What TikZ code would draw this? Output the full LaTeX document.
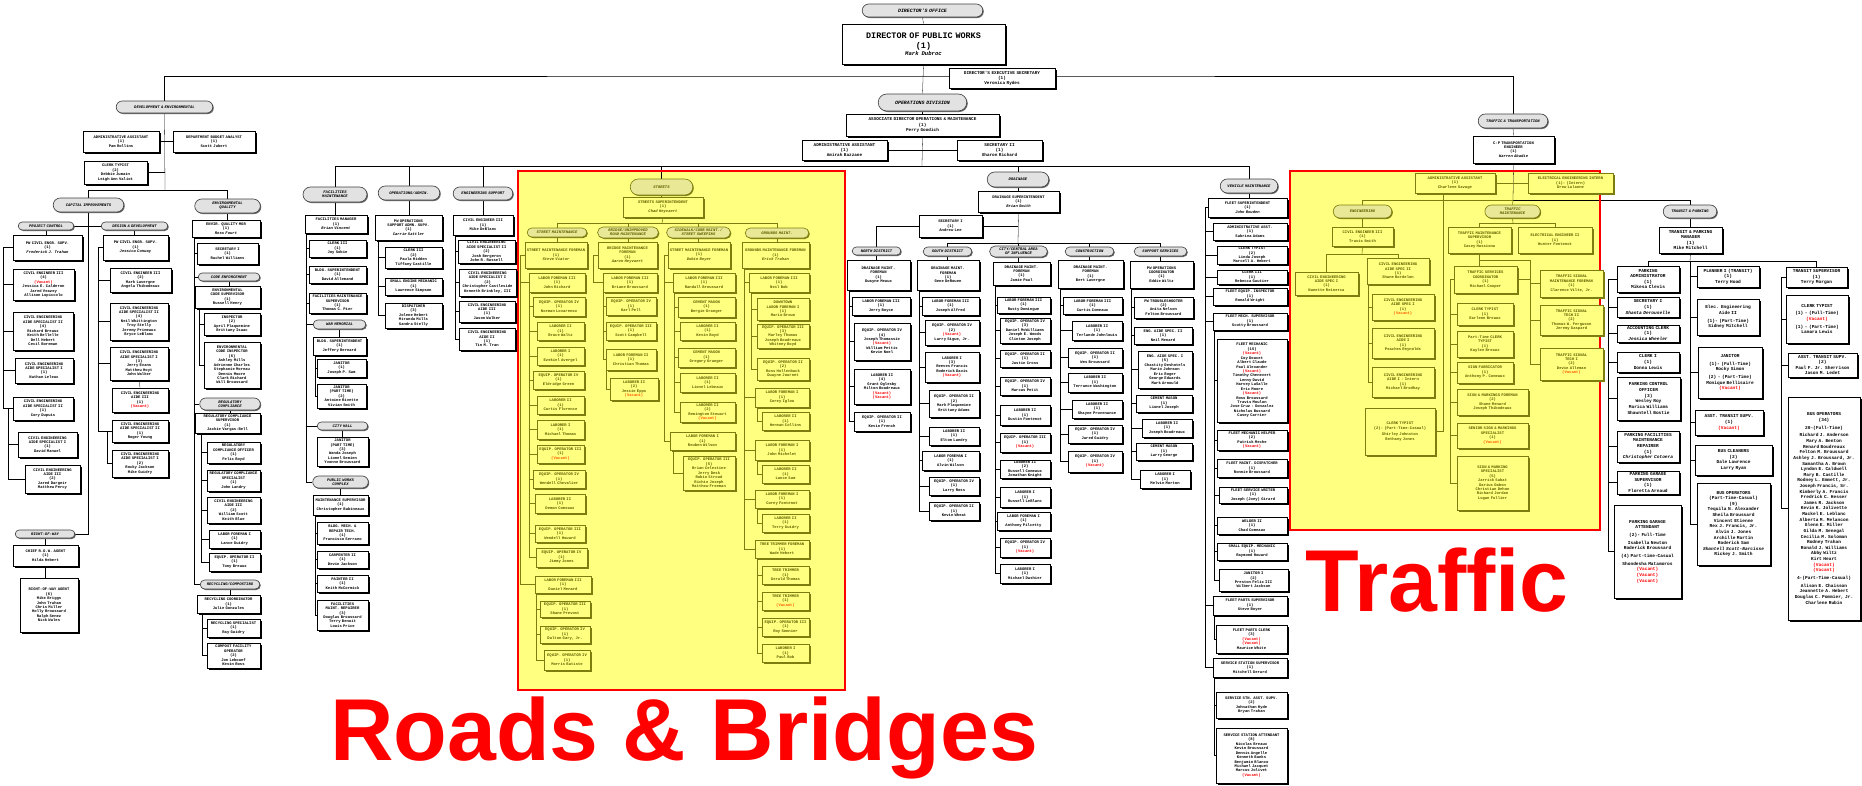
\documentclass[tikz,border=0pt]{standalone}
\usepackage{fontspec}
\setmainfont{Liberation Serif}
\setmonofont{Liberation Mono}
\newfontfamily\bigsans{Liberation Sans}
\usetikzlibrary{positioning,calc,shapes.misc,shadows,backgrounds}

\definecolor{hly}{RGB}{255,255,128}
\definecolor{olv}{RGB}{125,125,15}
\definecolor{olvtext}{RGB}{95,95,0}
\definecolor{ypf}{RGB}{232,232,150}
\definecolor{pillf}{RGB}{226,226,226}
\definecolor{vacor}{RGB}{255,90,0}

% box: [style]{name}{left}{top}{right}{bottom}{text}, in pixels
\newcommand{\bx}[7][obox]{%
  \pgfmathsetmacro{\bxx}{(#3+#5)/2}%
  \pgfmathsetmacro{\bxy}{(#4+#6)/2}%
  \pgfmathsetlengthmacro{\bxw}{(#5-#3)*0.05cm}%
  \pgfmathsetlengthmacro{\bxh}{(#6-#4)*0.05cm}%
  \pgfmathsetlengthmacro{\bxt}{(#5-#3-2)*0.05cm}%
  \node[#1, minimum width=\bxw, minimum height=\bxh, text width=\bxt] (#2) at (\bxx,\bxy) {#7};}
% tree links
\newcommand{\trb}[3]{\foreach \ch in {#3}{\draw ($(#1.south west)+(#2,0)$) |- (\ch.west);}}
\newcommand{\trw}[3]{\foreach \ch in {#3}{\draw (#1.west) -- ++(#2,0) |- (\ch.west);}}
\newcommand{\dn}[2]{\draw (#1.south) -- (#1.south |- #2.north);}
\newcommand{\vac}{\textcolor{red}{(Vacant)}}
\newcommand{\yvac}{\textcolor{vacor}{(Vacant)}}

\tikzset{
  basebox/.style={draw=black, line width=0.9pt, fill=white, align=center, inner sep=0.4pt,
    font=\fontsize{5.5}{6.3}\selectfont\ttfamily\bfseries},
  obox/.style={basebox, drop shadow={shadow xshift=0.1cm, shadow yshift=-0.1cm, fill=black, opacity=1}},
  tbox/.style={obox, font=\fontsize{6.4}{8}\selectfont\ttfamily\bfseries},
  hbox/.style={obox, font=\fontsize{6.2}{7.2}\selectfont\ttfamily\bfseries},
  dbox/.style={obox, font=\fontsize{12}{15}\selectfont\ttfamily\bfseries},
  ybox/.style={basebox, draw=olv, fill=hly, text=olvtext,
    drop shadow={shadow xshift=0.1cm, shadow yshift=-0.1cm, fill=olv, opacity=1}},
  pillbase/.style={rounded rectangle, line width=0.9pt, align=center, inner sep=0.3pt,
    font=\fontsize{5.5}{5.8}\selectfont\ttfamily\bfseries\itshape},
  pill/.style={pillbase, draw=black!75, fill=pillf,
    drop shadow={shadow xshift=0.05cm, shadow yshift=-0.05cm, fill=black!60, opacity=1}},
  bpill/.style={pill, font=\fontsize{7}{8}\selectfont\ttfamily\bfseries\itshape},
  ypill/.style={pillbase, draw=olv, fill=ypf, text=olvtext,
    drop shadow={shadow xshift=0.05cm, shadow yshift=-0.05cm, fill=olv, opacity=1}},
  conn/.style={draw=black!70, line width=0.8pt},
  yconn/.style={draw=olv, line width=0.8pt},
}

\begin{document}
\begin{tikzpicture}[x=0.05cm, y=-0.05cm]
\useasboundingbox (0,0) rectangle (1862,785);
\begin{scope}[on background layer]
  \fill[white] (0,0) rectangle (1862,785);
  \fill[hly] (518,171) rectangle (845,690);
  \fill[hly] (1290,171) rectangle (1600,530);
\end{scope}
\draw[red, line width=2.4pt] (518,171) rectangle (845,690);
\draw[red, line width=2.4pt] (1290,171) rectangle (1600,530);

% director's office
\bx[bpill]{dirOff}{862}{4}{983}{17}{DIRECTOR'S OFFICE}
\bx[dbox]{director}{842}{24}{1005}{64}{DIRECTOR OF PUBLIC WORKS\\(1)\par{\fontsize{8}{9}\selectfont\itshape Mark Dubroc\par}}
\bx[hbox]{execSec}{949}{68}{1055}{88}{DIRECTOR'S EXECUTIVE SECRETARY\\(1)\\Veronica Rydes}
\bx[bpill]{opsDiv}{878}{94}{967}{111}{OPERATIONS DIVISION}
\bx[hbox]{assocDir}{846}{114}{999}{136}{ASSOCIATE DIRECTOR OPERATIONS \& MAINTENANCE\\(1)\\Perry Goodich}
\bx[hbox]{opsAsst}{802}{140}{887}{160}{ADMINISTRATIVE ASSISTANT\\(1)\\Amirah Bazzane}
\bx[hbox]{opsSec}{957}{140}{1042}{160}{SECRETARY II\\(1)\\Sharon Richard}

% development & environmental
\bx[pill]{devEnv}{116}{101}{213}{113}{DEVELOPMENT \& ENVIRONMENTAL}
\bx{deAsst}{83}{131}{159}{152}{ADMINISTRATIVE ASSISTANT\\(1)\\Pam Rollins}
\bx{deBudget}{173}{131}{255}{152}{DEPARTMENT BUDGET ANALYST\\(1)\\Scott Jubert}
\bx{deClerk}{84}{161}{147}{184}{CLERK TYPIST\\(2)\\Debbie Jumain\\Leigh Ann Valiot}
\bx[pill]{capImp}{53}{198}{124}{212}{CAPITAL IMPROVEMENTS}
\bx[pill]{envQ}{195}{199}{260}{213}{ENVIRONMENTAL\\QUALITY}
\bx[pill]{projCtl}{18}{222}{74}{230}{PROJECT CONTROL}
\bx[pill]{desDev}{101}{222}{168}{230}{DESIGN \& DEVELOPMENT}
\bx{pc0}{13}{235}{82}{260}{PW CIVIL ENGR. SUPV.\\(1)\\\textit{Frederick J. Trahan}}
\bx{pc1}{13}{269}{74}{300}{CIVIL ENGINEER III\\(4)\\\vac\\Jessica E. Calderon\\Jared Veazey\\Allison Lopiccolo}
\bx{pc2}{13}{312}{73}{350}{CIVIL ENGINEERING AIDE SPECIALIST II\\(4)\\Richard Breaux\\Keith Bellelle\\Dell Hebert\\Cecil Boreman}
\bx{pc3}{15}{358}{73}{383}{CIVIL ENGINEERING AIDE SPECIALIST I\\(1)\\Nathan Leleux}
\bx{pc4}{13}{397}{73}{420}{CIVIL ENGINEERING AIDE SPECIALIST II\\(1)\\Cory Dupuis}
\bx{pc5}{18}{432}{77}{457}{CIVIL ENGINEERING AIDE SPECIALIST I\\(1)\\David Manuel}
\bx{pc6}{25}{465}{80}{493}{CIVIL ENGINEERING AIDE III\\(2)\\Jared Dargeir\\Matthew Percy}
\bx{dd0}{103}{235}{168}{260}{PW CIVIL ENGR. SUPV.\\(1)\\\textit{Jessica Conway}}
\bx{dd1}{110}{268}{171}{292}{CIVIL ENGINEER III\\(2)\\Mark Lavergne\\Angela Thibodeaux}
\bx{dd2}{110}{303}{168}{340}{CIVIL ENGINEERING AIDE SPECIALIST II\\(4)\\Neil Whittington\\Troy Stelly\\Jeremy Primeaux\\Bryce LeBlanc}
\bx{dd3}{110}{347}{168}{380}{CIVIL ENGINEERING AIDE SPECIALIST I\\(3)\\Jerry Evans\\Matthew Hoyt\\John Walker}
\bx{dd4}{112}{388}{168}{412}{CIVIL ENGINEERING AIDE III\\(1)\\\vac}
\bx{dd5}{112}{420}{168}{442}{CIVIL ENGINEERING AIDE SPECIALIST II\\(1)\\Roger Young}
\bx{dd6}{112}{450}{168}{477}{CIVIL ENGINEERING AIDE SPECIALIST I\\(2)\\Rocky Jackson\\Mike Guidry}
\bx[pill]{row}{15}{530}{75}{538}{RIGHT-OF-WAY}
\bx{rw0}{13}{545}{78}{566}{CHIEF R.O.W. AGENT\\(1)\\Hilda Hebert}
\bx{rw1}{20}{578}{78}{632}{RIGHT-OF-WAY AGENT\\(6)\\Mike Briggs\\John Trahan\\Chris Miller\\Holly Broussard\\Ralph Senez\\Nick Wales}
\bx{eq0}{192}{220}{260}{237}{ENVIR. QUALITY MGR\\(1)\\\textit{Ross Fourt}}
\bx{eq1}{197}{243}{258}{264}{SECRETARY I\\(1)\\Rachel Williams}
\bx[pill]{codeEnf}{198}{273}{260}{281}{CODE ENFORCEMENT}
\bx{eq2}{195}{286}{260}{308}{ENVIRONMENTAL CODE SUPERVISOR\\(1)\\Russell Henry}
\bx{eq3}{204}{313}{260}{335}{INSPECTOR\\(2)\\April Plaquemine\\Brittany Isaac}
\bx{eq4}{204}{342}{260}{388}{ENVIRONMENTAL CODE INSPECTOR\\(6)\\Ashley Mills\\Adrienne Charles\\Stephanie Moreau\\Dennis Moore\\Clark Richard\\Will Broussard}
\bx[pill]{regComp}{200}{398}{260}{410}{REGULATORY\\COMPLIANCE}
\bx{eq5}{195}{413}{260}{433}{REGULATORY COMPLIANCE SUPERVISOR\\(1)\\Jackie Vargas-Bell}
\bx{eq6}{207}{442}{260}{463}{REGULATORY COMPLIANCE OFFICER\\(1)\\Felix Boyd}
\bx{eq7}{207}{470}{260}{491}{REGULATORY COMPLIANCE SPECIALIST\\(1)\\John Landry}
\bx{eq8}{207}{497}{260}{523}{CIVIL ENGINEERING AIDE III\\(2)\\William Scott\\Keith Blue}
\bx{eq9}{209}{530}{260}{548}{LABOR FOREMAN I\\(1)\\Lance Guidry}
\bx{eq10}{209}{553}{260}{571}{EQUIP. OPERATOR II\\(1)\\Tony Breaux}
\bx[pill]{recyc}{200}{580}{260}{589}{RECYCLING/COMPOSTING}
\bx{eq11}{197}{595}{260}{613}{RECYCLING COORDINATOR\\(1)\\Julie Gonzales}
\bx{eq12}{207}{619}{260}{637}{RECYCLING SPECIALIST\\(1)\\Ray Guidry}
\bx{eq13}{207}{643}{260}{668}{COMPOST FACILITY OPERATOR\\(2)\\Jon Lebouef\\Kevin Ross}

% facilities, operations/admin, engineering support
\bx[pill]{facMaint}{303}{187}{367}{202}{FACILITIES\\MAINTENANCE}
\bx[pill]{opsAdmin}{378}{186}{440}{200}{OPERATIONS/ADMIN.}
\bx[pill]{engSup}{453}{187}{513}{200}{ENGINEERING SUPPORT}
\bx{facMgr}{305}{215}{367}{233}{FACILITIES MANAGER\\(1)\\\textit{Brian Vincent}}
\bx{facClerk}{309}{240}{366}{257}{CLERK III\\(1)\\Joy Sobie}
\bx{facBldg}{309}{266}{366}{283}{BLDG. SUPERINTENDENT\\(1)\\David Allemand}
\bx{facSup}{309}{293}{366}{313}{FACILITIES MAINTENANCE SUPERVISOR\\(1)\\Thomas C. Pier}
\bx[pill]{warMem}{313}{320}{366}{329}{WAR MEMORIAL}
\bx{wmBldg}{313}{337}{366}{355}{BLDG. SUPERINTENDENT\\(1)\\Jeffery Bernard}
\bx{wmJan}{317}{359}{366}{377}{JANITOR\\(1)\\Joseph P. Sam}
\bx{wmJanPT}{317}{384}{366}{408}{JANITOR\\(PART TIME)\\(2)\\Antoine Rivette\\Vivian Smith}
\bx[pill]{cityHall}{317}{422}{368}{430}{CITY HALL}
\bx{chJan}{317}{437}{368}{466}{JANITOR\\(PART TIME)\\(3)\\Wanda Joseph\\Lionel Semien\\Yvonne Broussard}
\bx[pill]{pwc}{313}{476}{368}{488}{PUBLIC WORKS\\COMPLEX}
\bx{pwSup}{313}{495}{368}{515}{MAINTENANCE SUPERVISOR\\(1)\\Christopher Babineaux}
\bx{pwTech}{317}{522}{368}{544}{BLDG. MECH. \& REPAIR TECH.\\(1)\\Francisco Serrano}
\bx{pwCarp}{317}{551}{368}{568}{CARPENTER II\\(1)\\Devin Jackson}
\bx{pwPaint}{317}{575}{368}{592}{PAINTER II\\(1)\\Keith McCormick}
\bx{pwRep}{317}{600}{368}{630}{FACILITIES MAINT. REPAIRER\\(3)\\Douglas Broussard\\Terry Benoit\\Louis Price}
\bx{opsSupv}{375}{215}{442}{240}{PW OPERATIONS SUPPORT ADMN. SUPV.\\(1)\\\textit{Carrie Sattler}}
\bx{opsClerk}{385}{247}{442}{268}{CLERK III\\(2)\\Paula Hidden\\Tiffany Castille}
\bx{opsMech}{385}{278}{442}{295}{SMALL ENGINE MECHANIC\\(1)\\Lawrence Simpson}
\bx{opsDisp}{385}{303}{442}{328}{DISPATCHER\\(3)\\Jolene Hebert\\Miranda Mills\\Sandra Stelly}
\bx{esCE}{453}{215}{513}{235}{CIVIL ENGINEER III\\(1)\\Mike DeBlanc}
\bx{esAS2}{458}{240}{515}{263}{CIVIL ENGINEERING AIDE SPECIALIST II\\(2)\\Josh Bergeron\\John R. Russell}
\bx{esAS1}{459}{269}{516}{296}{CIVIL ENGINEERING AIDE SPECIALIST I\\(2)\\Christopher Castleside\\Kenneth Brinkley, III}
\bx{esA3}{459}{301}{515}{322}{CIVIL ENGINEERING AIDE III\\(1)\\Jason Walker}
\bx{esA2}{459}{328}{515}{350}{CIVIL ENGINEERING AIDE II\\(1)\\Tin M. Tran}

% streets (roads & bridges)
\bx[ypill]{streets}{630}{179}{693}{195}{STREETS}
\bx[ybox]{stSup}{623}{197}{703}{217}{STREETS SUPERINTENDENT\\(1)\\\textit{Chad Heyvaert}}
\bx[ypill]{stMaint}{527}{228}{587}{237}{STREET MAINTENANCE}
\bx[ypill]{brMaint}{598}{227}{658}{238}{BRIDGE/UNIMPROVED\\ROAD MAINTENANCE}
\bx[ypill]{swMaint}{667}{227}{730}{238}{SIDEWALK/CURB MAINT./\\STREET SWEEPING}
\bx[ypill]{grMaint}{745}{228}{809}{238}{GROUNDS MAINT.}
\bx[ybox]{sm0}{525}{242}{587}{268}{STREET MAINTENANCE FOREMAN\\(1)\\\textit{Steve Viator}}
\bx[ybox]{sm1}{529}{273}{585}{292}{LABOR FOREMAN III\\(1)\\John Richard}
\bx[ybox]{sm2}{533}{297}{585}{316}{EQUIP. OPERATOR IV\\(1)\\Norman Lovarenso}
\bx[ybox]{sm3}{537}{322}{584}{340}{LABORER II\\(1)\\Bruce Waltz}
\bx[ybox]{sm4}{537}{347}{584}{365}{LABORER I\\(1)\\Ezekiel Avergel}
\bx[ybox]{sm5}{533}{371}{584}{389}{EQUIP. OPERATOR IV\\(1)\\Eldridge Green}
\bx[ybox]{sm6}{537}{396}{584}{414}{LABORER II\\(1)\\Curtis Florence}
\bx[ybox]{sm7}{537}{420}{584}{439}{LABORER I\\(1)\\Michael Thomas}
\bx[ybox]{sm8}{537}{445}{584}{463}{EQUIP. OPERATOR III\\(1)\\\yvac}
\bx[ybox]{sm9}{533}{470}{585}{488}{EQUIP. OPERATOR IV\\(1)\\Wendell Chevalier}
\bx[ybox]{sm10}{535}{494}{585}{513}{LABORER II\\(1)\\Demon Comeaux}
\bx[ybox]{sm11}{535}{525}{585}{542}{EQUIP. OPERATOR III\\(1)\\Wendell Howard}
\bx[ybox]{sm12}{536}{548}{587}{567}{EQUIP. OPERATOR IV\\(1)\\Jimmy Jones}
\bx[ybox]{sm13}{535}{576}{591}{593}{LABOR FOREMAN III\\(1)\\Daniel Menard}
\bx[ybox]{sm14}{540}{601}{590}{617}{EQUIP. OPERATOR III\\(1)\\Shane Prevost}
\bx[ybox]{sm15}{540}{626}{590}{643}{EQUIP. OPERATOR IV\\(1)\\Dalton Gary, Jr.}
\bx[ybox]{sm16}{544}{650}{590}{670}{EQUIP. OPERATOR IV\\(1)\\Morris Batiste}
\bx[ybox]{br0}{598}{242}{657}{268}{BRIDGE MAINTENANCE FOREMAN\\(1)\\\textit{Aaron Heyvaert}}
\bx[ybox]{br1}{603}{273}{657}{292}{LABOR FOREMAN III\\(1)\\Briane Broussard}
\bx[ybox]{br2}{606}{297}{656}{315}{EQUIP. OPERATOR IV\\(1)\\Karl Pell}
\bx[ybox]{br3}{606}{322}{656}{340}{EQUIP. OPERATOR III\\(1)\\Scott Campbell}
\bx[ybox]{br4}{606}{349}{656}{370}{LABOR FOREMAN II\\(1)\\Christian Thomas}
\bx[ybox]{br5}{610}{378}{658}{400}{LABORER II\\(2)\\Jessie Epps\\\yvac}
\bx[ybox]{sw0}{668}{242}{730}{268}{STREET MAINTENANCE FOREMAN\\(1)\\\textit{Dobie Boyer}}
\bx[ybox]{sw1}{673}{273}{735}{292}{LABOR FOREMAN III\\(1)\\Randall Broussard}
\bx[ybox]{sw2}{678}{297}{735}{317}{CEMENT MASON\\(1)\\Bergie Granger}
\bx[ybox]{sw3}{680}{322}{735}{340}{LABORER II\\(1)\\Kevin Boyd}
\bx[ybox]{sw4}{678}{348}{735}{367}{CEMENT MASON\\(1)\\Gregory Granger}
\bx[ybox]{sw5}{680}{373}{735}{392}{LABORER II\\(1)\\Lionel Lebeaux}
\bx[ybox]{sw6}{680}{402}{735}{422}{LABORER II\\(2)\\Remington Stewart\\\yvac}
\bx[ybox]{sw7}{670}{432}{735}{450}{LABOR FOREMAN I\\(1)\\Reuben Wilson}
\bx[ybox]{sw8}{683}{456}{735}{490}{EQUIP. OPERATOR III\\(5)\\Brian Celestine\\Jerry Desk\\Robin Stroud\\Richie Joseph\\Matthew Freeman}
\bx[ybox]{gr0}{742}{242}{809}{268}{GROUNDS MAINTENANCE FOREMAN\\(1)\\\textit{Erick Trahan}}
\bx[ybox]{gr1}{749}{273}{809}{292}{LABOR FOREMAN III\\(1)\\Neil Bob}
\bx[ybox]{gr2}{757}{298}{809}{320}{DOWNTOWN\\LABOR FOREMAN I\\(1)\\Mario Brown}
\bx[ybox]{gr3}{757}{324}{809}{348}{EQUIP. OPERATOR III\\(3)\\Marley Thomas\\Joseph Boudreaux\\Whitney Boyd}
\bx[ybox]{gr4}{757}{358}{809}{380}{EQUIP. OPERATOR II\\(2)\\Ross Hollenback\\Dwayne Journet}
\bx[ybox]{gr5}{755}{388}{809}{407}{LABOR FOREMAN I\\(1)\\Corey Iglou}
\bx[ybox]{gr6}{762}{412}{809}{430}{LABORER II\\(1)\\Herman Collins}
\bx[ybox]{gr7}{755}{440}{809}{460}{LABOR FOREMAN I\\(1)\\John Michelet}
\bx[ybox]{gr8}{762}{465}{809}{483}{LABORER II\\(1)\\Lance Sam}
\bx[ybox]{gr9}{755}{490}{809}{508}{LABOR FOREMAN I\\(1)\\Corey Fontenot}
\bx[ybox]{gr10}{762}{514}{809}{532}{LABORER II\\(1)\\Terry Guidry}
\bx[ybox]{gr11}{755}{540}{809}{558}{TREE TRIMMER FOREMAN\\(1)\\Wade Hebert}
\bx[ybox]{gr12}{762}{566}{809}{584}{TREE TRIMMER\\(1)\\Gerald Thomas}
\bx[ybox]{gr13}{762}{592}{809}{610}{TREE TRIMMER\\(1)\\\yvac}
\bx[ybox]{gr14}{762}{618}{809}{636}{EQUIP. OPERATOR III\\(1)\\Roy Sonnier}
\bx[ybox]{gr15}{762}{644}{809}{662}{LABORER I\\(1)\\Paul Bob}

% drainage
\bx[pill]{drainage}{987}{172}{1049}{187}{DRAINAGE}
\bx{drSup}{978}{191}{1059}{212}{DRAINAGE SUPERINTENDENT\\(1)\\\textit{Brian Smith}}
\bx{drSec}{919}{215}{982}{237}{SECRETARY I\\(1)\\Andrew Lee}
\bx[pill]{dNorth}{852}{247}{901}{255}{NORTH DISTRICT}
\bx[pill]{dSouth}{923}{247}{972}{256}{SOUTH DISTRICT}
\bx[pill]{dCentral}{990}{246}{1047}{257}{CITY/CENTRAL AREA\\OF INFLUENCE}
\bx[pill]{dConst}{1065}{247}{1114}{256}{CONSTRUCTION}
\bx[pill]{dSupport}{1134}{247}{1187}{256}{SUPPORT SERVICES}
\bx{no0}{847}{260}{910}{290}{DRAINAGE MAINT.\\FOREMAN\\(1)\\Dwayne Meaux}
\bx{no1}{852}{297}{910}{315}{LABOR FOREMAN III\\(1)\\Jerry Boyce}
\bx{no2}{854}{323}{910}{360}{EQUIP. OPERATOR IV\\(4)\\Joseph Thomassie\\\vac\\William Pettis\\Kevin Noel}
\bx{no3}{854}{369}{910}{404}{LABORER II\\(4)\\Grant Oglesby\\Milton Boudreaux\\\vac\\\vac}
\bx{no4}{854}{412}{910}{431}{EQUIP. OPERATOR II\\(1)\\Kevin French}
\bx{so0}{917}{260}{979}{290}{DRAINAGE MAINT.\\FOREMAN\\(1)\\Gene DeRouen}
\bx{so1}{922}{297}{979}{315}{LABOR FOREMAN III\\(1)\\Joseph Alfred}
\bx{so2}{925}{320}{979}{345}{EQUIP. OPERATOR IV\\(2)\\\vac\\Larry Sigue, Jr.}
\bx{so3}{925}{352}{979}{382}{LABORER I\\(3)\\Reeves Francis\\Roderick Davis\\\vac}
\bx{so4}{929}{390}{979}{417}{EQUIP. OPERATOR II\\(2)\\Mark Plaquemine\\Brittany Adams}
\bx{so5}{929}{427}{979}{445}{LABORER II\\(1)\\Elton Landry}
\bx{so6}{922}{451}{979}{470}{LABOR FOREMAN I\\(1)\\Alvin Wilson}
\bx{so7}{929}{477}{979}{495}{EQUIP. OPERATOR IV\\(1)\\Larry Ross}
\bx{so8}{929}{502}{979}{520}{EQUIP. OPERATOR II\\(1)\\Kevin Wheat}
\bx{ce0}{993}{262}{1050}{285}{DRAINAGE MAINT.\\FOREMAN\\(1)\\Jamie Paul}
\bx{ce1}{997}{297}{1050}{313}{LABOR FOREMAN III\\(1)\\Rusty Domingue}
\bx{ce2}{1000}{318}{1050}{343}{EQUIP. OPERATOR IV\\(3)\\Daniel McWilliams\\Joseph E. Woods\\Clinton Joseph}
\bx{ce3}{1000}{350}{1050}{367}{EQUIP. OPERATOR II\\(1)\\Justin Cross}
\bx{ce4}{1000}{377}{1050}{395}{EQUIP. OPERATOR IV\\(1)\\Marcus Petit}
\bx{ce5}{1000}{405}{1050}{425}{LABORER II\\(1)\\Dustin Fontenot}
\bx{ce6}{1000}{433}{1050}{452}{EQUIP. OPERATOR III\\(1)\\\vac}
\bx{ce7}{1000}{460}{1050}{478}{LABORER II\\(2)\\Russell Comeaux\\Jonathan Knight}
\bx{ce8}{1000}{487}{1050}{507}{LABORER I\\(1)\\Russell LeBlanc}
\bx{ce9}{997}{512}{1050}{530}{LABOR FOREMAN I\\(1)\\Anthony Pilcetty}
\bx{ce10}{1000}{538}{1050}{557}{EQUIP. OPERATOR IV\\(1)\\\vac}
\bx{ce11}{1000}{564}{1050}{583}{LABORER I\\(1)\\Michael Dashier}
\bx{co0}{1058}{260}{1123}{288}{DRAINAGE MAINT.\\FOREMAN\\(1)\\Bert Lavergne}
\bx{co1}{1063}{297}{1122}{314}{LABOR FOREMAN III\\(1)\\Curtis Comeaux}
\bx{co2}{1072}{321}{1122}{340}{LABORER II\\(1)\\Terlande Johnlouis}
\bx{co3}{1068}{348}{1122}{367}{EQUIP. OPERATOR II\\(1)\\Wes Broussard}
\bx{co4}{1068}{373}{1122}{392}{LABORER II\\(1)\\Terrance Washington}
\bx{co5}{1072}{400}{1122}{418}{LABORER II\\(1)\\Shayne Provenance}
\bx{co6}{1068}{425}{1122}{443}{EQUIP. OPERATOR IV\\(1)\\Jared Guidry}
\bx{co7}{1068}{451}{1122}{472}{EQUIP. OPERATOR IV\\(1)\\\vac}
\bx{su0}{1130}{261}{1193}{288}{PW OPERATIONS\\COORDINATOR\\(1)\\Eddie Wiltz}
\bx{su1}{1134}{297}{1193}{318}{PW TROUBLESHOOTER\\(2)\\Anita Nelson\\Felton Broussard}
\bx{su2}{1134}{327}{1192}{344}{ENG. AIDE SPEC. II\\(1)\\Neil Menard}
\bx{su3}{1138}{351}{1192}{388}{ENG. AIDE SPEC. I\\(5)\\Chastity Deshotels\\Mario Johnson\\Eric Roger\\George Edwards\\Mark Arnould}
\bx{su4}{1136}{395}{1192}{412}{CEMENT MASON\\(1)\\Lionel Joseph}
\bx{su5}{1142}{419}{1192}{437}{LABORER II\\(1)\\Joseph Boudreaux}
\bx{su6}{1136}{443}{1192}{460}{CEMENT MASON\\(1)\\Larry George}
\bx{su7}{1140}{470}{1190}{488}{LABORER I\\(1)\\Melvin Morton}

% vehicle maintenance
\bx[pill]{vehMaint}{1220}{179}{1278}{193}{VEHICLE MAINTENANCE}
\bx{vm0}{1208}{198}{1287}{217}{FLEET SUPERINTENDENT\\(1)\\\textit{John Bowden}}
\bx{vm1}{1213}{223}{1287}{240}{ADMINISTRATIVE ASST.\\(1)\\Sabrina Adams}
\bx{vm2}{1217}{246}{1287}{264}{CLERK TYPIST\\(2)\\Linda Joseph\\Marcell A. Hebert}
\bx{vm3}{1217}{270}{1287}{284}{CLERK III\\(1)\\Rebecca Gautier}
\bx{vm4}{1213}{288}{1287}{305}{FLEET EQUIP. INSPECTOR\\(1)\\Ronald Wright}
\bx{vm5}{1213}{313}{1287}{330}{FLEET MECH. SUPERVISOR\\(1)\\Scotty Broussard}
\bx{vm6}{1217}{339}{1287}{422}{FLEET MECHANIC\\(15)\\\vac\\Coy Doucet\\Albert Claude\\Paul Alexander\\\vac\\Timothy Chenevert\\Lenny David\\Harvey LaSalle\\Eric Moore\\\vac\\Ross Broussard\\Travis Moulon\\Jose Cruz - Gonzalez\\Nicholas Bussard\\Casey Carrier}
\bx{vm7}{1217}{430}{1287}{450}{FLEET MECHANIC HELPER\\(2)\\Patrick Meche\\\vac}
\bx{vm8}{1217}{459}{1287}{477}{FLEET MAINT. DISPATCHER\\(1)\\Ronnie Broussard}
\bx{vm9}{1219}{487}{1287}{503}{FLEET SERVICE WRITER\\(1)\\Joseph (Joey) Girard}
\bx{vm10}{1217}{517}{1287}{534}{WELDER II\\(1)\\Chad Comeaux}
\bx{vm11}{1217}{543}{1287}{560}{SMALL EQUIP. MECHANIC\\(1)\\Raymond Howard}
\bx{vm12}{1219}{569}{1288}{591}{JANITOR I\\(2)\\Preston Felix III\\Wilbert Jackson}
\bx{vm13}{1213}{596}{1287}{615}{FLEET PARTS SUPERVISOR\\(1)\\Steve Boyer}
\bx{vm14}{1216}{625}{1287}{653}{FLEET PARTS CLERK\\(3)\\\vac\\\vac\\Maurice White}
\bx{vm15}{1213}{658}{1287}{677}{SERVICE STATION SUPERVISOR\\(1)\\Mitchell Gerard}
\bx{vm16}{1216}{692}{1287}{718}{SERVICE STN. ASST. SUPV.\\(2)\\Johnathan Hyde\\Bryan Trahan}
\bx{vm17}{1216}{728}{1287}{783}{SERVICE STATION ATTENDANT\\(8)\\Nicolas Breaux\\Kevin Broussard\\Dennis Angelle\\Kenneth Banks\\Benjamin Blanco\\Michael Jacquet\\Marcus Jolivet\\\vac}

% traffic & transportation
\bx[pill]{tt}{1478}{114}{1548}{128}{TRAFFIC \& TRANSPORTATION}
\bx{cpEng}{1473}{136}{1554}{163}{C-P TRANSPORTATION\\ENGINEER\\(1)\\\textit{Warren Abadie}}
\bx[ybox]{ttAsst}{1415}{173}{1495}{193}{ADMINISTRATIVE ASSISTANT\\(1)\\Charlene Savage}
\bx[ybox]{ttIntern}{1528}{173}{1613}{193}{ELECTRICAL ENGINEERING INTERN\\(1)- (Intern)\\Drew Lalanne}
\bx[ypill]{eng}{1333}{205}{1392}{218}{ENGINEERING}
\bx[ypill]{tm}{1485}{205}{1540}{218}{TRAFFIC\\MAINTENANCE}
\bx[ybox]{engCE}{1332}{227}{1393}{246}{CIVIL ENGINEER III\\(1)\\Travis Smith}
\bx[ybox]{engA}{1295}{272}{1358}{295}{CIVIL ENGINEERING AIDE SPEC I\\(1)\\Nanette Reinerca}
\bx[ybox]{engB}{1367}{258}{1429}{284}{CIVIL ENGINEERING AIDE SPEC II\\(1)\\Shane Bordelon}
\bx[ybox]{engC}{1372}{294}{1434}{320}{CIVIL ENGINEERING AIDE SPEC I\\(1)\\\yvac}
\bx[ybox]{engD}{1372}{328}{1434}{358}{CIVIL ENGINEERING\\AIDE I\\(1)\\Peaches Reynolds}
\bx[ybox]{engE}{1372}{367}{1434}{397}{CIVIL ENGINEERING\\AIDE I - Intern\\(1)\\Michael Brodhay}
\bx[ybox]{ttClerk}{1365}{408}{1435}{455}{CLERK TYPIST\\(2)- (Part-Time-Casual)\\[3pt]Shirley Johnston\\Bethany Jones}
\bx[ybox]{tmSup}{1448}{227}{1511}{253}{TRAFFIC MAINTENANCE\\SUPERVISOR\\(1)\\Casey Hassiona}
\bx[ybox]{tmElec}{1518}{227}{1592}{253}{ELECTRICAL ENGINEER II\\(1)\\Hunter Fontenot}
\bx[ybox]{tmCoord}{1454}{266}{1517}{293}{TRAFFIC SERVICES\\COORDINATOR\\(1)\\Michael Cooper}
\bx[ybox]{tmCT}{1457}{303}{1513}{325}{CLERK TYPIST\\(1)\\Earlene Breaux}
\bx[ybox]{tmPT}{1457}{331}{1513}{357}{Part-Time CLERK\\TYPIST\\(1)\\Kaylee Breaux}
\bx[ybox]{tmSF}{1457}{362}{1513}{383}{SIGN FABRICATOR\\(1)\\Anthony P. Comeaux}
\bx[ybox]{tmSM}{1457}{389}{1528}{415}{SIGN \& MARKINGS FOREMAN\\(2)\\Shane Menard\\Joseph Thibodeaux}
\bx[ybox]{tmSS}{1457}{423}{1528}{448}{SENIOR SIGN \& MARKINGS\\SPECIALIST\\(1)\\\yvac}
\bx[ybox]{tmSMS}{1457}{456}{1528}{510}{SIGN \& MARKING\\SPECIALIST\\(5)\\Jarrick Sabat\\Darius Dabon\\Christian Dehon\\Richard Jordan\\Logan Fullier}
\bx[ybox]{tsFore}{1540}{270}{1603}{297}{TRAFFIC SIGNAL\\MAINTENANCE FOREMAN\\(1)\\Clarence Vilte, Jr.}
\bx[ybox]{tsT2}{1540}{305}{1603}{335}{TRAFFIC SIGNAL\\TECH II\\(2)\\Thomas W. Ferguson\\Jeremy Gaspard}
\bx[ybox]{tsT1}{1540}{348}{1603}{380}{TRAFFIC SIGNAL\\TECH I\\(2)\\Devin Alleman\\\yvac}

% transit & parking
\bx[pill]{tp}{1663}{205}{1717}{218}{TRANSIT \& PARKING}
\bx[tbox]{tpMgr}{1659}{227}{1722}{253}{TRANSIT \& PARKING\\MANAGER\\(1)\\Mike Mitchell}
\bx[tbox]{paAdm}{1617}{266}{1679}{292}{PARKING\\ADMINISTRATOR\\(1)\\Mikesa Clevis}
\bx[tbox]{paSec}{1617}{297}{1679}{317}{SECRETARY I\\(1)\\\textit{Shanta Derouselle}}
\bx[tbox]{paAcc}{1617}{325}{1679}{342}{ACCOUNTING CLERK\\(1)\\\textit{Jessica Wheeler}}
\bx[tbox]{paClk}{1617}{352}{1679}{372}{CLERK I\\(1)\\Donna Lewis}
\bx[tbox]{paPCO}{1617}{377}{1680}{420}{PARKING CONTROL\\OFFICER\\(3)\\Wesley Roy\\Marica Williams\\Shawntell Bostie}
\bx[tbox]{paRep}{1617}{431}{1679}{462}{PARKING FACILITIES\\MAINTENANCE\\REPAIRER\\(1)\\\textit{Christopher Cotoera}}
\bx[tbox]{paGS}{1617}{471}{1679}{494}{PARKING GARAGE\\SUPERVISOR\\(1)\\Floretta Arnaud}
\bx[tbox]{paGA}{1614}{505}{1681}{598}{PARKING GARAGE\\ATTENDANT\\[3pt](2)- Full-Time\\[3pt]Isabella Newton\\Roderick Broussard\\[3pt](4) Part-time-Casual\\[3pt]Shondesha Matamoros\\\vac\\\vac\\\vac}
\bx[tbox]{trPl}{1697}{266}{1759}{287}{PLANNER I (TRANSIT)\\(1)\\Terry Hood}
\bx[tbox]{trEA}{1697}{299}{1759}{335}{Elec. Engineering\\Aide II\\[3pt](1)- (Part-Time)\\Sidney Mitchell}
\bx[tbox]{trJan}{1698}{347}{1762}{398}{JANITOR\\[3pt](1)- (Full-Time)\\Rocky Simon\\[3pt](2) - (Part-Time)\\Monique Bellisaire\\\vac}
\bx[tbox]{trATS}{1695}{410}{1763}{435}{ASST. TRANSIT SUPV.\\(1)\\\vac}
\bx[tbox]{trBC}{1695}{445}{1772}{475}{BUS CLEANERS\\(2)\\Dale Lawrence\\Larry Ryan}
\bx[tbox]{trBOp}{1697}{483}{1770}{565}{BUS OPERATORS\\(Part-Time-Casual)\\(9)\\Tequila N. Alexander\\Sheila Broussard\\Vincent Etienne\\Rex J. Francis, Jr.\\Alvin J. Jones\\Archille Martin\\Roderick Sam\\\textit{Shantell Scott-Narcisse}\\Rickey J. Smith}
\bx[tbox]{tsSup}{1786}{267}{1847}{287}{TRANSIT SUPERVISOR\\(1)\\Terry Morgan}
\bx[tbox]{tsClk}{1786}{295}{1848}{343}{CLERK TYPIST\\[3pt](1) - (Full-Time)\\\vac\\[3pt](1) - (Part-Time)\\Lamara Lewis}
\bx[tbox]{tsATS}{1788}{353}{1857}{377}{ASST. TRANSIT SUPV.\\(2)\\Paul F. Jr. Sherrison\\Jason M. Ledet}
\bx[tbox]{tsBO}{1788}{397}{1860}{620}{BUS OPERATORS\\(34)\\[3pt]20-(Full-Time)\\[3pt]Richard J. Anderson\\Mary A. Benton\\Renard Boudreaux\\Felton M. Broussard\\Ashley J. Broussard, Jr.\\Samantha A. Brown\\Lyndon E. Caldwell\\Mary B. Castille\\Rodney L. Emmett, Jr.\\Joseph Francis, Sr.\\Kimberly A. Francis\\Fredrick C. Hesser\\James R. Jackson\\Kevin K. Jolivette\\Mackel E. Leblanc\\Alberta M. Melancon\\Glenn E. Miller\\Gilda M. Senegal\\Cecilia M. Soloman\\Rodney Trahan\\Ronald J. Williams\\Abby Wiltz\\Kirt Heart\\\vac\\\vac\\[3pt]4-(Part-Time-Casual)\\[3pt]Alison E. Chaisson\\Jeannette A. Hebert\\Douglas C. Pommier, Jr.\\Charlene Rubin}

% big labels
\node[anchor=base west, inner sep=0, text=red, font=\bigsans\bfseries\fontsize{125}{125}\selectfont] (rbLabel) at (330,760) {Roads \& Bridges};
\node[anchor=base west, inner sep=0, text=red, font=\bigsans\bfseries\fontsize{125}{125}\selectfont] (trLabel) at (1305,611) {Traffic};

% connectors
\coordinate (topHub) at (922,76);
\coordinate (opsHub) at (922,166);
\coordinate (deHub) at (165,190);
\coordinate (drHub) at (1018,243);
\coordinate (stHub) at (662,223);
\coordinate (ttHub) at (1513,200);
\coordinate (tmHub) at (1513,223);
\coordinate (tmJ) at (1530,260);
\coordinate (engHub) at (1362,254);
\coordinate (tpHub) at (1690,261);
\begin{scope}[on background layer, conn]
  \draw (dirOff.south) -- (director.north);
  \draw (director.south) -- (opsDiv.north);
  \draw (devEnv.north) |- (topHub) -| (tt.north);
  \draw (opsDiv.south) -- (assocDir.north);
  \draw (assocDir.south) -- (opsHub);
  \draw (opsAsst.east) -- (opsSec.west);
  \foreach \p in {facMaint,opsAdmin,engSup,streets,drainage,vehMaint} \draw (opsHub) -| (\p.north);
  % development & environmental
  \draw (devEnv.south) -- (deHub);
  \draw (deHub) -| (capImp.north);
  \draw (deHub) -| (envQ.north);
  \draw (deAsst.east) -- (deBudget.west);
  \draw (deClerk.east) -- (deClerk.east -| deHub);
  \draw (capImp.south) |- (projCtl.east);
  \draw (capImp.south) |- (desDev.west);
  \draw (capImp.south) |- (row.east);
  \dn{projCtl}{pc0} \dn{desDev}{dd0} \dn{row}{rw0} \dn{rw0}{rw1}
  \trw{pc0}{-10}{pc1,pc2,pc3,pc4}
  \trw{pc4}{-5}{pc5,pc6}
  \trw{dd0}{-5}{dd1,dd2,dd3,dd5}
  \draw (dd3.south) -- (dd4.north);
  \trw{dd5}{-5}{dd6}
  \dn{envQ}{eq0}
  \trb{eq0}{2}{eq1,codeEnf,regComp,recyc}
  \dn{codeEnf}{eq2} \dn{regComp}{eq5} \dn{recyc}{eq11}
  \trb{eq2}{4}{eq3,eq4}
  \trb{eq5}{6}{eq6,eq7,eq8,eq9,eq10}
  \trb{eq11}{5}{eq12,eq13}
  % facilities, operations/admin, engineering support
  \dn{facMaint}{facMgr} \dn{opsAdmin}{opsSupv} \dn{engSup}{esCE}
  \trb{facMgr}{1}{facClerk,facBldg,facSup,warMem,cityHall,pwc}
  \dn{warMem}{wmBldg} \dn{cityHall}{chJan} \dn{pwc}{pwSup}
  \trb{wmBldg}{2}{wmJan,wmJanPT}
  \trb{pwSup}{2}{pwTech,pwCarp,pwPaint,pwRep}
  \trb{opsSupv}{3}{opsClerk,opsMech,opsDisp}
  \trb{esCE}{2}{esAS2,esAS1,esA3,esA2}
  % drainage
  \dn{drainage}{drSup}
  \draw (drSup.south) -- (drHub);
  \draw (drSec.east) -- (drSec.east -| drHub);
  \draw (drSec.west) -| (dNorth.north);
  \foreach \p in {dSouth,dCentral,dConst,dSupport} \draw (drHub) -| (\p.north);
  \dn{dNorth}{no0} \dn{dSouth}{so0} \dn{dCentral}{ce0} \dn{dConst}{co0} \dn{dSupport}{su0}
  \trb{no0}{2}{no1,no2,no3,no4}
  \trb{so0}{2}{so1,so2,so3,so4,so5,so6,so7,so8}
  \trb{ce0}{2}{ce1,ce2,ce3,ce4,ce5,ce6,ce7,ce8,ce9,ce10,ce11}
  \trb{co0}{2}{co1,co2,co3,co4,co5,co6,co7}
  \trb{su0}{1}{su1,su2,su3,su4,su5,su6,su7}
  % vehicle maintenance
  \dn{vehMaint}{vm0}
  \trw{vm0}{-3}{vm1,vm2,vm3,vm4,vm5,vm13,vm15}
  \trb{vm5}{1}{vm6,vm7,vm8,vm9,vm10,vm11,vm12}
  \trb{vm13}{1}{vm14}
  \trb{vm15}{1}{vm16,vm17}
  % traffic & transportation, transit & parking
  \draw (tt.south) -- (cpEng.north);
  \draw (cpEng.south) -- (ttHub);
  \draw (ttHub) -| (tp.north);
  \dn{tp}{tpMgr}
  \draw (tpMgr.south) -- (tpHub);
  \draw (tpHub) -| (paAdm.north);
  \draw (tpHub) -| (tsSup.north);
  \foreach \p in {trPl,trEA,trJan,trATS,trBC,trBOp} \draw (tpHub) |- (\p.west);
  \trw{paAdm}{-9}{paSec,paAcc,paClk,paPCO,paRep,paGS,paGA}
  \trw{tsSup}{-5}{tsClk,tsATS,tsBO}
  \begin{scope}[yconn]
    \dn{streets}{stSup}
    \draw (stSup.south) -- (stHub);
    \foreach \p in {stMaint,brMaint,swMaint,grMaint} \draw (stHub) -| (\p.north);
    \dn{stMaint}{sm0} \dn{brMaint}{br0} \dn{swMaint}{sw0} \dn{grMaint}{gr0}
    \trw{sm0}{-4}{sm1,sm13}
    \trb{sm1}{1}{sm2,sm3,sm4,sm5,sm6,sm7,sm8,sm9,sm10,sm11,sm12}
    \trb{sm13}{2}{sm14,sm15,sm16}
    \trw{br0}{-4}{br1}
    \trb{br1}{1}{br2,br3,br4}
    \trb{br4}{1}{br5}
    \trw{sw0}{-3}{sw1,sw7}
    \trb{sw1}{2}{sw2,sw3,sw4,sw5,sw6}
    \trb{sw7}{4}{sw8}
    \trb{gr0}{3}{gr1,gr5,gr7,gr9,gr11}
    \trb{gr1}{3}{gr2,gr3,gr4}
    \trb{gr5}{3}{gr6}
    \trb{gr7}{3}{gr8}
    \trb{gr9}{3}{gr10}
    \trb{gr11}{3}{gr12,gr13,gr14,gr15}
    \draw (ttHub) -| (eng.north);
    \draw (ttHub) -- (tm.north);
    \draw (ttAsst.east) -- (ttIntern.west);
    \draw (ttClerk.east) -| ($(ttAsst.south west)+(29,0)$);
    \dn{eng}{engCE}
    \draw (engCE.south) -- (engHub);
    \draw (engHub) -| (engA.north);
    \draw (engHub) -| (engB.north);
    \trb{engB}{2}{engC,engD,engE}
    \draw (tm.south) -- (tmHub);
    \draw (tmHub) -| (tmSup.north);
    \draw (tmHub) -| (tmElec.north);
    \dn{tmSup}{tmCoord}
    \draw (tmSup.south) |- (tmJ);
    \foreach \p in {tsFore,tsT2,tsT1} \draw (tmJ) |- (\p.west);
    \draw (tmCoord.east) -- (tmCoord.east -| tmJ);
    \trw{tmCoord}{-3}{tmCT,tmPT,tmSF,tmSM,tmSS,tmSMS}
  \end{scope}
\end{scope}
\end{tikzpicture}
\end{document}
